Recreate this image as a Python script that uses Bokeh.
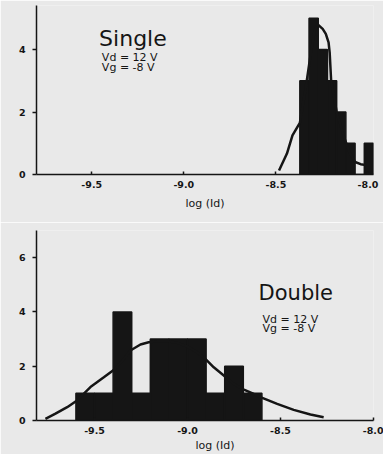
from bokeh.plotting import figure
from bokeh.layouts import column
from bokeh.models import Range1d, FixedTicker, Label, Title
from bokeh.embed import file_html
from bokeh.resources import INLINE

# ---------------- data ----------------
x_ticks = [-9.5, -9.0, -8.5, -8.0]
x_tick_labels = {-9.5: "-9.5", -9.0: "-9.0", -8.5: "-8.5", -8.0: "-8.0"}

# Single: histogram of log(Id), bins of 0.05
single_bin_width = 0.05
single_bin_left = [-8.37, -8.32, -8.27, -8.22, -8.17, -8.12, -8.07, -8.02]
single_counts = [3, 5, 4, 3, 2, 1, 0, 1]
single_fit_x = [-8.483, -8.44, -8.41, -8.37, -8.34, -8.31, -8.29, -8.273, -8.246,
                -8.229, -8.214, -8.208, -8.20, -8.17, -8.13, -8.10, -8.07, -8.04, -8.01]
single_fit_y = [0.13, 0.67, 1.25, 1.65, 2.7, 3.9, 4.6, 4.8, 4.66,
                4.5, 4.23, 3.9, 3.0, 2.0, 1.2, 0.7, 0.4, 0.33, 0.3]
single_y_ticks = [0, 2, 4]

# Double: histogram of log(Id), bins of 0.1
double_bin_width = 0.1
double_bin_left = [-9.6, -9.5, -9.4, -9.3, -9.2, -9.1, -9.0, -8.9, -8.8, -8.7]
double_counts = [1, 1, 4, 1, 3, 3, 3, 1, 2, 1]
double_fit_x = [-9.764, -9.71, -9.647, -9.594, -9.522, -9.45, -9.397, -9.35, -9.307,
                -9.253, -9.209, -9.15, -9.10, -9.05, -9.0, -8.95, -8.904, -8.859,
                -8.805, -8.752, -8.70, -8.65, -8.608, -8.518, -8.429, -8.339, -8.268]
double_fit_y = [0.06, 0.25, 0.49, 0.74, 1.23, 1.59, 1.86, 2.2, 2.58,
                2.80, 2.88, 2.93, 2.92, 2.85, 2.72, 2.52, 2.27, 1.96,
                1.66, 1.35, 1.15, 1.0, 0.86, 0.61, 0.39, 0.22, 0.12]
double_y_ticks = [0, 2, 4, 6]

BG = "#e9e9e9"
INK = "#151515"
FONT = "DejaVu Sans"


def style(p, yticks, label=True):
    p.background_fill_color = BG
    p.border_fill_color = BG
    p.outline_line_color = None
    p.grid.visible = False
    for ax in (p.xaxis[0], p.yaxis[0]):
        ax.axis_line_color = INK
        ax.axis_line_width = 1.5
        ax.major_tick_line_color = INK
        ax.major_tick_line_width = 1.5
        ax.minor_tick_line_color = None
        ax.major_label_text_font = FONT
        ax.major_label_text_font_style = "bold"
        ax.major_label_text_font_size = "9.5px"
        ax.major_label_text_color = INK
    xa = p.xaxis[0]
    xa.ticker = FixedTicker(ticks=x_ticks)
    xa.major_label_overrides = x_tick_labels
    xa.major_tick_in = 3
    xa.major_tick_out = 0
    xa.major_label_standoff = 6
    if label:
        xa.axis_label = "log (Id)"
        xa.axis_label_text_font = FONT
        xa.axis_label_text_font_style = "normal"
        xa.axis_label_text_font_size = "11px"
        xa.axis_label_text_color = INK
        xa.axis_label_standoff = 6
    ya = p.yaxis[0]
    ya.ticker = FixedTicker(ticks=yticks)
    ya.major_tick_in = 0
    ya.major_tick_out = 4
    ya.major_label_standoff = 7


def add_text(p, x, y, txt, size, bold=False):
    p.add_layout(Label(x=x, y=y, text=txt, text_font=FONT, text_font_size=size,
                       text_font_style="bold" if bold else "normal",
                       text_color=INK, text_baseline="alphabetic", text_align="left"))


# ---------------- Single ----------------
p1 = figure(width=383, height=222, output_backend="svg", toolbar_location=None,
            x_range=Range1d(-9.80, -7.97), y_range=Range1d(0, 5.41),
            min_border_left=33, min_border_right=5, min_border_top=5, min_border_bottom=48)
style(p1, single_y_ticks)
p1.quad(left=single_bin_left,
        right=[v + single_bin_width for v in single_bin_left],
        top=single_counts, bottom=0,
        fill_color=INK, line_color=INK, line_width=1.5)
p1.line(single_fit_x, single_fit_y, line_color=INK, line_width=2.5)
add_text(p1, -9.46, 4.35, "Single", "22px")
add_text(p1, -9.445, 3.74, "Vd = 12 V", "11px")
add_text(p1, -9.445, 3.41, "Vg = -8 V", "11px")

# ---------------- Double ----------------
p2 = figure(width=383, height=232, output_backend="svg", toolbar_location=None,
            x_range=Range1d(-9.812, -8.0), y_range=Range1d(0, 7.0),
            min_border_left=36, min_border_right=10, min_border_top=8, min_border_bottom=34)
style(p2, double_y_ticks, label=False)
p2.add_layout(Title(text="log (Id)", align="left", offset=159, standoff=0,
                    text_font=FONT, text_font_size="11px", text_font_style="normal",
                    text_color=INK), "below")
p2.quad(left=double_bin_left,
        right=[v + double_bin_width for v in double_bin_left],
        top=double_counts, bottom=0,
        fill_color=INK, line_color=INK, line_width=1.5)
p2.line(double_fit_x, double_fit_y, line_color=INK, line_width=2.5)
add_text(p2, -8.618, 4.68, "Double", "21px")
add_text(p2, -8.597, 3.72, "Vd = 12 V", "11px")
add_text(p2, -8.597, 3.40, "Vg = -8 V", "11px")

layout = column(p1, p2, spacing=0)
open("out.html", "w").write(file_html(layout, INLINE))
